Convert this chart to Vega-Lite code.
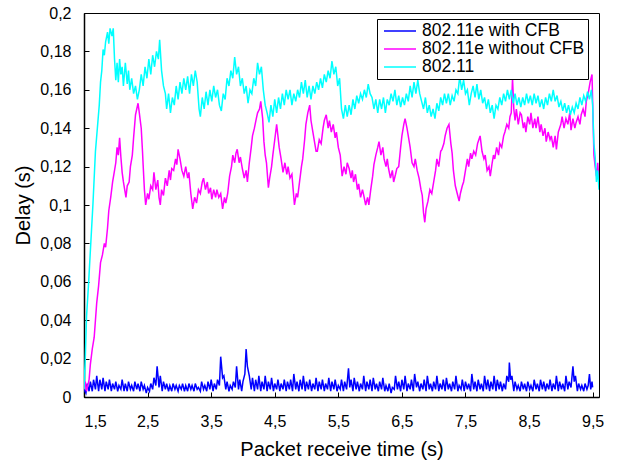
{
"$schema": "https://vega.github.io/schema/vega-lite/v6.json",
"width": 515,
"height": 384,
"autosize": {"type": "none"},
"padding": {"left": 84, "top": 13, "right": 21, "bottom": 68},
"background": "white",
"config": {
  "view": {"stroke": "#000000", "strokeWidth": 1},
  "font": "Liberation Sans",
  "axis": {"labelFont": "Liberation Sans", "titleFont": "Liberation Sans", "labelColor": "#000", "titleColor": "#000", "domainColor": "#000", "tickColor": "#000", "grid": false, "titleFontWeight": "normal", "labelFontSize": 16, "titleFontSize": 20, "domainWidth": 1.5, "tickWidth": 1, "tickSize": -5}
},
"data": {"values": [
{"s":"802.11e with CFB","t":1.50,"d":0.004},{"s":"802.11e with CFB","t":1.53,"d":0.002},{"s":"802.11e with CFB","t":1.55,"d":0.007},{"s":"802.11e with CFB","t":1.58,"d":0.003},{"s":"802.11e with CFB","t":1.60,"d":0.008},{"s":"802.11e with CFB","t":1.63,"d":0.003},{"s":"802.11e with CFB","t":1.65,"d":0.009},{"s":"802.11e with CFB","t":1.68,"d":0.004},{"s":"802.11e with CFB","t":1.70,"d":0.011},{"s":"802.11e with CFB","t":1.73,"d":0.003},{"s":"802.11e with CFB","t":1.75,"d":0.009},{"s":"802.11e with CFB","t":1.78,"d":0.004},{"s":"802.11e with CFB","t":1.80,"d":0.010},{"s":"802.11e with CFB","t":1.83,"d":0.003},{"s":"802.11e with CFB","t":1.85,"d":0.008},{"s":"802.11e with CFB","t":1.88,"d":0.004},{"s":"802.11e with CFB","t":1.90,"d":0.009},{"s":"802.11e with CFB","t":1.93,"d":0.003},{"s":"802.11e with CFB","t":1.95,"d":0.007},{"s":"802.11e with CFB","t":1.98,"d":0.004},{"s":"802.11e with CFB","t":2.00,"d":0.008},{"s":"802.11e with CFB","t":2.03,"d":0.003},{"s":"802.11e with CFB","t":2.05,"d":0.006},{"s":"802.11e with CFB","t":2.08,"d":0.004},{"s":"802.11e with CFB","t":2.10,"d":0.009},{"s":"802.11e with CFB","t":2.13,"d":0.003},{"s":"802.11e with CFB","t":2.15,"d":0.007},{"s":"802.11e with CFB","t":2.18,"d":0.003},{"s":"802.11e with CFB","t":2.20,"d":0.008},{"s":"802.11e with CFB","t":2.23,"d":0.004},{"s":"802.11e with CFB","t":2.25,"d":0.006},{"s":"802.11e with CFB","t":2.28,"d":0.003},{"s":"802.11e with CFB","t":2.30,"d":0.008},{"s":"802.11e with CFB","t":2.33,"d":0.004},{"s":"802.11e with CFB","t":2.35,"d":0.007},{"s":"802.11e with CFB","t":2.38,"d":0.003},{"s":"802.11e with CFB","t":2.40,"d":0.008},{"s":"802.11e with CFB","t":2.43,"d":0.004},{"s":"802.11e with CFB","t":2.45,"d":0.006},{"s":"802.11e with CFB","t":2.48,"d":0.002},{"s":"802.11e with CFB","t":2.50,"d":0.005},{"s":"802.11e with CFB","t":2.53,"d":0.003},{"s":"802.11e with CFB","t":2.55,"d":0.007},{"s":"802.11e with CFB","t":2.58,"d":0.004},{"s":"802.11e with CFB","t":2.60,"d":0.010},{"s":"802.11e with CFB","t":2.63,"d":0.006},{"s":"802.11e with CFB","t":2.65,"d":0.016},{"s":"802.11e with CFB","t":2.68,"d":0.005},{"s":"802.11e with CFB","t":2.70,"d":0.011},{"s":"802.11e with CFB","t":2.73,"d":0.003},{"s":"802.11e with CFB","t":2.75,"d":0.008},{"s":"802.11e with CFB","t":2.78,"d":0.004},{"s":"802.11e with CFB","t":2.80,"d":0.007},{"s":"802.11e with CFB","t":2.83,"d":0.003},{"s":"802.11e with CFB","t":2.85,"d":0.006},{"s":"802.11e with CFB","t":2.88,"d":0.003},{"s":"802.11e with CFB","t":2.90,"d":0.007},{"s":"802.11e with CFB","t":2.93,"d":0.004},{"s":"802.11e with CFB","t":2.95,"d":0.006},{"s":"802.11e with CFB","t":2.98,"d":0.003},{"s":"802.11e with CFB","t":3.00,"d":0.006},{"s":"802.11e with CFB","t":3.03,"d":0.004},{"s":"802.11e with CFB","t":3.05,"d":0.007},{"s":"802.11e with CFB","t":3.08,"d":0.003},{"s":"802.11e with CFB","t":3.10,"d":0.006},{"s":"802.11e with CFB","t":3.13,"d":0.003},{"s":"802.11e with CFB","t":3.15,"d":0.007},{"s":"802.11e with CFB","t":3.18,"d":0.004},{"s":"802.11e with CFB","t":3.20,"d":0.006},{"s":"802.11e with CFB","t":3.23,"d":0.003},{"s":"802.11e with CFB","t":3.25,"d":0.007},{"s":"802.11e with CFB","t":3.28,"d":0.004},{"s":"802.11e with CFB","t":3.30,"d":0.005},{"s":"802.11e with CFB","t":3.33,"d":0.003},{"s":"802.11e with CFB","t":3.35,"d":0.008},{"s":"802.11e with CFB","t":3.38,"d":0.004},{"s":"802.11e with CFB","t":3.40,"d":0.006},{"s":"802.11e with CFB","t":3.43,"d":0.003},{"s":"802.11e with CFB","t":3.45,"d":0.008},{"s":"802.11e with CFB","t":3.48,"d":0.004},{"s":"802.11e with CFB","t":3.50,"d":0.009},{"s":"802.11e with CFB","t":3.53,"d":0.003},{"s":"802.11e with CFB","t":3.55,"d":0.007},{"s":"802.11e with CFB","t":3.58,"d":0.004},{"s":"802.11e with CFB","t":3.60,"d":0.009},{"s":"802.11e with CFB","t":3.63,"d":0.006},{"s":"802.11e with CFB","t":3.65,"d":0.021},{"s":"802.11e with CFB","t":3.68,"d":0.010},{"s":"802.11e with CFB","t":3.70,"d":0.011},{"s":"802.11e with CFB","t":3.73,"d":0.004},{"s":"802.11e with CFB","t":3.75,"d":0.008},{"s":"802.11e with CFB","t":3.78,"d":0.003},{"s":"802.11e with CFB","t":3.80,"d":0.006},{"s":"802.11e with CFB","t":3.83,"d":0.004},{"s":"802.11e with CFB","t":3.85,"d":0.008},{"s":"802.11e with CFB","t":3.88,"d":0.005},{"s":"802.11e with CFB","t":3.90,"d":0.016},{"s":"802.11e with CFB","t":3.93,"d":0.004},{"s":"802.11e with CFB","t":3.95,"d":0.009},{"s":"802.11e with CFB","t":3.98,"d":0.003},{"s":"802.11e with CFB","t":4.00,"d":0.008},{"s":"802.11e with CFB","t":4.03,"d":0.012},{"s":"802.11e with CFB","t":4.05,"d":0.025},{"s":"802.11e with CFB","t":4.07,"d":0.016},{"s":"802.11e with CFB","t":4.10,"d":0.011},{"s":"802.11e with CFB","t":4.13,"d":0.004},{"s":"802.11e with CFB","t":4.15,"d":0.010},{"s":"802.11e with CFB","t":4.18,"d":0.003},{"s":"802.11e with CFB","t":4.20,"d":0.009},{"s":"802.11e with CFB","t":4.23,"d":0.004},{"s":"802.11e with CFB","t":4.25,"d":0.011},{"s":"802.11e with CFB","t":4.28,"d":0.003},{"s":"802.11e with CFB","t":4.30,"d":0.008},{"s":"802.11e with CFB","t":4.33,"d":0.004},{"s":"802.11e with CFB","t":4.35,"d":0.011},{"s":"802.11e with CFB","t":4.38,"d":0.003},{"s":"802.11e with CFB","t":4.40,"d":0.008},{"s":"802.11e with CFB","t":4.43,"d":0.004},{"s":"802.11e with CFB","t":4.45,"d":0.010},{"s":"802.11e with CFB","t":4.48,"d":0.003},{"s":"802.11e with CFB","t":4.50,"d":0.007},{"s":"802.11e with CFB","t":4.53,"d":0.004},{"s":"802.11e with CFB","t":4.55,"d":0.009},{"s":"802.11e with CFB","t":4.58,"d":0.003},{"s":"802.11e with CFB","t":4.60,"d":0.007},{"s":"802.11e with CFB","t":4.63,"d":0.004},{"s":"802.11e with CFB","t":4.65,"d":0.009},{"s":"802.11e with CFB","t":4.68,"d":0.003},{"s":"802.11e with CFB","t":4.70,"d":0.008},{"s":"802.11e with CFB","t":4.73,"d":0.004},{"s":"802.11e with CFB","t":4.75,"d":0.009},{"s":"802.11e with CFB","t":4.78,"d":0.003},{"s":"802.11e with CFB","t":4.80,"d":0.012},{"s":"802.11e with CFB","t":4.83,"d":0.004},{"s":"802.11e with CFB","t":4.85,"d":0.008},{"s":"802.11e with CFB","t":4.88,"d":0.003},{"s":"802.11e with CFB","t":4.90,"d":0.009},{"s":"802.11e with CFB","t":4.93,"d":0.004},{"s":"802.11e with CFB","t":4.95,"d":0.011},{"s":"802.11e with CFB","t":4.98,"d":0.003},{"s":"802.11e with CFB","t":5.00,"d":0.008},{"s":"802.11e with CFB","t":5.03,"d":0.004},{"s":"802.11e with CFB","t":5.05,"d":0.009},{"s":"802.11e with CFB","t":5.08,"d":0.003},{"s":"802.11e with CFB","t":5.10,"d":0.007},{"s":"802.11e with CFB","t":5.13,"d":0.004},{"s":"802.11e with CFB","t":5.15,"d":0.010},{"s":"802.11e with CFB","t":5.18,"d":0.003},{"s":"802.11e with CFB","t":5.20,"d":0.008},{"s":"802.11e with CFB","t":5.23,"d":0.004},{"s":"802.11e with CFB","t":5.25,"d":0.009},{"s":"802.11e with CFB","t":5.28,"d":0.003},{"s":"802.11e with CFB","t":5.30,"d":0.007},{"s":"802.11e with CFB","t":5.33,"d":0.004},{"s":"802.11e with CFB","t":5.35,"d":0.010},{"s":"802.11e with CFB","t":5.38,"d":0.003},{"s":"802.11e with CFB","t":5.40,"d":0.008},{"s":"802.11e with CFB","t":5.43,"d":0.004},{"s":"802.11e with CFB","t":5.45,"d":0.009},{"s":"802.11e with CFB","t":5.48,"d":0.003},{"s":"802.11e with CFB","t":5.50,"d":0.006},{"s":"802.11e with CFB","t":5.53,"d":0.004},{"s":"802.11e with CFB","t":5.55,"d":0.009},{"s":"802.11e with CFB","t":5.58,"d":0.003},{"s":"802.11e with CFB","t":5.60,"d":0.008},{"s":"802.11e with CFB","t":5.63,"d":0.004},{"s":"802.11e with CFB","t":5.66,"d":0.015},{"s":"802.11e with CFB","t":5.68,"d":0.005},{"s":"802.11e with CFB","t":5.70,"d":0.009},{"s":"802.11e with CFB","t":5.73,"d":0.003},{"s":"802.11e with CFB","t":5.75,"d":0.010},{"s":"802.11e with CFB","t":5.78,"d":0.004},{"s":"802.11e with CFB","t":5.80,"d":0.008},{"s":"802.11e with CFB","t":5.83,"d":0.003},{"s":"802.11e with CFB","t":5.85,"d":0.007},{"s":"802.11e with CFB","t":5.88,"d":0.004},{"s":"802.11e with CFB","t":5.90,"d":0.011},{"s":"802.11e with CFB","t":5.93,"d":0.003},{"s":"802.11e with CFB","t":5.95,"d":0.008},{"s":"802.11e with CFB","t":5.98,"d":0.004},{"s":"802.11e with CFB","t":6.00,"d":0.009},{"s":"802.11e with CFB","t":6.03,"d":0.003},{"s":"802.11e with CFB","t":6.05,"d":0.010},{"s":"802.11e with CFB","t":6.08,"d":0.004},{"s":"802.11e with CFB","t":6.10,"d":0.007},{"s":"802.11e with CFB","t":6.13,"d":0.003},{"s":"802.11e with CFB","t":6.15,"d":0.008},{"s":"802.11e with CFB","t":6.18,"d":0.004},{"s":"802.11e with CFB","t":6.20,"d":0.010},{"s":"802.11e with CFB","t":6.23,"d":0.003},{"s":"802.11e with CFB","t":6.25,"d":0.006},{"s":"802.11e with CFB","t":6.28,"d":0.003},{"s":"802.11e with CFB","t":6.30,"d":0.007},{"s":"802.11e with CFB","t":6.33,"d":0.002},{"s":"802.11e with CFB","t":6.35,"d":0.005},{"s":"802.11e with CFB","t":6.38,"d":0.004},{"s":"802.11e with CFB","t":6.40,"d":0.011},{"s":"802.11e with CFB","t":6.43,"d":0.004},{"s":"802.11e with CFB","t":6.45,"d":0.008},{"s":"802.11e with CFB","t":6.48,"d":0.003},{"s":"802.11e with CFB","t":6.50,"d":0.009},{"s":"802.11e with CFB","t":6.53,"d":0.004},{"s":"802.11e with CFB","t":6.55,"d":0.011},{"s":"802.11e with CFB","t":6.58,"d":0.003},{"s":"802.11e with CFB","t":6.60,"d":0.007},{"s":"802.11e with CFB","t":6.63,"d":0.004},{"s":"802.11e with CFB","t":6.65,"d":0.009},{"s":"802.11e with CFB","t":6.68,"d":0.003},{"s":"802.11e with CFB","t":6.70,"d":0.012},{"s":"802.11e with CFB","t":6.73,"d":0.005},{"s":"802.11e with CFB","t":6.75,"d":0.008},{"s":"802.11e with CFB","t":6.78,"d":0.003},{"s":"802.11e with CFB","t":6.80,"d":0.007},{"s":"802.11e with CFB","t":6.83,"d":0.004},{"s":"802.11e with CFB","t":6.85,"d":0.009},{"s":"802.11e with CFB","t":6.88,"d":0.003},{"s":"802.11e with CFB","t":6.90,"d":0.011},{"s":"802.11e with CFB","t":6.93,"d":0.004},{"s":"802.11e with CFB","t":6.95,"d":0.007},{"s":"802.11e with CFB","t":6.98,"d":0.003},{"s":"802.11e with CFB","t":7.00,"d":0.008},{"s":"802.11e with CFB","t":7.03,"d":0.004},{"s":"802.11e with CFB","t":7.05,"d":0.011},{"s":"802.11e with CFB","t":7.08,"d":0.003},{"s":"802.11e with CFB","t":7.10,"d":0.007},{"s":"802.11e with CFB","t":7.13,"d":0.004},{"s":"802.11e with CFB","t":7.15,"d":0.009},{"s":"802.11e with CFB","t":7.18,"d":0.003},{"s":"802.11e with CFB","t":7.20,"d":0.010},{"s":"802.11e with CFB","t":7.23,"d":0.004},{"s":"802.11e with CFB","t":7.25,"d":0.007},{"s":"802.11e with CFB","t":7.28,"d":0.003},{"s":"802.11e with CFB","t":7.30,"d":0.008},{"s":"802.11e with CFB","t":7.33,"d":0.004},{"s":"802.11e with CFB","t":7.35,"d":0.011},{"s":"802.11e with CFB","t":7.38,"d":0.003},{"s":"802.11e with CFB","t":7.40,"d":0.006},{"s":"802.11e with CFB","t":7.43,"d":0.004},{"s":"802.11e with CFB","t":7.45,"d":0.009},{"s":"802.11e with CFB","t":7.48,"d":0.003},{"s":"802.11e with CFB","t":7.50,"d":0.008},{"s":"802.11e with CFB","t":7.53,"d":0.004},{"s":"802.11e with CFB","t":7.55,"d":0.007},{"s":"802.11e with CFB","t":7.58,"d":0.003},{"s":"802.11e with CFB","t":7.60,"d":0.012},{"s":"802.11e with CFB","t":7.63,"d":0.004},{"s":"802.11e with CFB","t":7.65,"d":0.008},{"s":"802.11e with CFB","t":7.68,"d":0.003},{"s":"802.11e with CFB","t":7.70,"d":0.009},{"s":"802.11e with CFB","t":7.73,"d":0.004},{"s":"802.11e with CFB","t":7.75,"d":0.007},{"s":"802.11e with CFB","t":7.78,"d":0.003},{"s":"802.11e with CFB","t":7.80,"d":0.011},{"s":"802.11e with CFB","t":7.83,"d":0.004},{"s":"802.11e with CFB","t":7.85,"d":0.009},{"s":"802.11e with CFB","t":7.88,"d":0.003},{"s":"802.11e with CFB","t":7.90,"d":0.008},{"s":"802.11e with CFB","t":7.93,"d":0.004},{"s":"802.11e with CFB","t":7.95,"d":0.011},{"s":"802.11e with CFB","t":7.98,"d":0.003},{"s":"802.11e with CFB","t":8.00,"d":0.009},{"s":"802.11e with CFB","t":8.03,"d":0.004},{"s":"802.11e with CFB","t":8.05,"d":0.008},{"s":"802.11e with CFB","t":8.08,"d":0.003},{"s":"802.11e with CFB","t":8.10,"d":0.007},{"s":"802.11e with CFB","t":8.13,"d":0.004},{"s":"802.11e with CFB","t":8.15,"d":0.011},{"s":"802.11e with CFB","t":8.18,"d":0.008},{"s":"802.11e with CFB","t":8.19,"d":0.018},{"s":"802.11e with CFB","t":8.21,"d":0.009},{"s":"802.11e with CFB","t":8.23,"d":0.011},{"s":"802.11e with CFB","t":8.26,"d":0.003},{"s":"802.11e with CFB","t":8.28,"d":0.008},{"s":"802.11e with CFB","t":8.31,"d":0.004},{"s":"802.11e with CFB","t":8.33,"d":0.006},{"s":"802.11e with CFB","t":8.36,"d":0.003},{"s":"802.11e with CFB","t":8.38,"d":0.008},{"s":"802.11e with CFB","t":8.41,"d":0.004},{"s":"802.11e with CFB","t":8.43,"d":0.007},{"s":"802.11e with CFB","t":8.46,"d":0.003},{"s":"802.11e with CFB","t":8.48,"d":0.008},{"s":"802.11e with CFB","t":8.51,"d":0.004},{"s":"802.11e with CFB","t":8.53,"d":0.006},{"s":"802.11e with CFB","t":8.56,"d":0.003},{"s":"802.11e with CFB","t":8.58,"d":0.009},{"s":"802.11e with CFB","t":8.61,"d":0.004},{"s":"802.11e with CFB","t":8.63,"d":0.007},{"s":"802.11e with CFB","t":8.66,"d":0.003},{"s":"802.11e with CFB","t":8.68,"d":0.009},{"s":"802.11e with CFB","t":8.71,"d":0.004},{"s":"802.11e with CFB","t":8.73,"d":0.008},{"s":"802.11e with CFB","t":8.76,"d":0.003},{"s":"802.11e with CFB","t":8.78,"d":0.007},{"s":"802.11e with CFB","t":8.81,"d":0.004},{"s":"802.11e with CFB","t":8.83,"d":0.009},{"s":"802.11e with CFB","t":8.86,"d":0.003},{"s":"802.11e with CFB","t":8.88,"d":0.007},{"s":"802.11e with CFB","t":8.91,"d":0.004},{"s":"802.11e with CFB","t":8.93,"d":0.011},{"s":"802.11e with CFB","t":8.96,"d":0.003},{"s":"802.11e with CFB","t":8.98,"d":0.008},{"s":"802.11e with CFB","t":9.01,"d":0.004},{"s":"802.11e with CFB","t":9.03,"d":0.007},{"s":"802.11e with CFB","t":9.06,"d":0.003},{"s":"802.11e with CFB","t":9.08,"d":0.011},{"s":"802.11e with CFB","t":9.11,"d":0.004},{"s":"802.11e with CFB","t":9.13,"d":0.008},{"s":"802.11e with CFB","t":9.16,"d":0.005},{"s":"802.11e with CFB","t":9.19,"d":0.016},{"s":"802.11e with CFB","t":9.21,"d":0.008},{"s":"802.11e with CFB","t":9.23,"d":0.011},{"s":"802.11e with CFB","t":9.26,"d":0.003},{"s":"802.11e with CFB","t":9.28,"d":0.007},{"s":"802.11e with CFB","t":9.31,"d":0.004},{"s":"802.11e with CFB","t":9.33,"d":0.006},{"s":"802.11e with CFB","t":9.36,"d":0.003},{"s":"802.11e with CFB","t":9.38,"d":0.007},{"s":"802.11e with CFB","t":9.41,"d":0.004},{"s":"802.11e with CFB","t":9.43,"d":0.006},{"s":"802.11e with CFB","t":9.45,"d":0.012},{"s":"802.11e with CFB","t":9.47,"d":0.004},{"s":"802.11e with CFB","t":9.49,"d":0.008},{"s":"802.11e with CFB","t":9.50,"d":0.005},
{"s":"802.11e without CFB","t":1.50,"d":0.004},{"s":"802.11e without CFB","t":1.52,"d":0.008},{"s":"802.11e without CFB","t":1.54,"d":0.003},{"s":"802.11e without CFB","t":1.56,"d":0.006},{"s":"802.11e without CFB","t":1.58,"d":0.009},{"s":"802.11e without CFB","t":1.60,"d":0.017},{"s":"802.11e without CFB","t":1.63,"d":0.025},{"s":"802.11e without CFB","t":1.66,"d":0.031},{"s":"802.11e without CFB","t":1.68,"d":0.040},{"s":"802.11e without CFB","t":1.70,"d":0.049},{"s":"802.11e without CFB","t":1.73,"d":0.058},{"s":"802.11e without CFB","t":1.76,"d":0.070},{"s":"802.11e without CFB","t":1.79,"d":0.074},{"s":"802.11e without CFB","t":1.82,"d":0.080},{"s":"802.11e without CFB","t":1.84,"d":0.078},{"s":"802.11e without CFB","t":1.87,"d":0.088},{"s":"802.11e without CFB","t":1.89,"d":0.097},{"s":"802.11e without CFB","t":1.92,"d":0.104},{"s":"802.11e without CFB","t":1.95,"d":0.112},{"s":"802.11e without CFB","t":1.97,"d":0.116},{"s":"802.11e without CFB","t":2.00,"d":0.122},{"s":"802.11e without CFB","t":2.02,"d":0.130},{"s":"802.11e without CFB","t":2.04,"d":0.126},{"s":"802.11e without CFB","t":2.06,"d":0.135},{"s":"802.11e without CFB","t":2.08,"d":0.125},{"s":"802.11e without CFB","t":2.10,"d":0.117},{"s":"802.11e without CFB","t":2.12,"d":0.112},{"s":"802.11e without CFB","t":2.14,"d":0.108},{"s":"802.11e without CFB","t":2.16,"d":0.104},{"s":"802.11e without CFB","t":2.18,"d":0.110},{"s":"802.11e without CFB","t":2.21,"d":0.112},{"s":"802.11e without CFB","t":2.23,"d":0.120},{"s":"802.11e without CFB","t":2.26,"d":0.126},{"s":"802.11e without CFB","t":2.28,"d":0.135},{"s":"802.11e without CFB","t":2.31,"d":0.147},{"s":"802.11e without CFB","t":2.33,"d":0.150},{"s":"802.11e without CFB","t":2.35,"d":0.153},{"s":"802.11e without CFB","t":2.37,"d":0.148},{"s":"802.11e without CFB","t":2.40,"d":0.140},{"s":"802.11e without CFB","t":2.42,"d":0.128},{"s":"802.11e without CFB","t":2.43,"d":0.121},{"s":"802.11e without CFB","t":2.45,"d":0.108},{"s":"802.11e without CFB","t":2.47,"d":0.100},{"s":"802.11e without CFB","t":2.50,"d":0.106},{"s":"802.11e without CFB","t":2.52,"d":0.103},{"s":"802.11e without CFB","t":2.55,"d":0.110},{"s":"802.11e without CFB","t":2.58,"d":0.108},{"s":"802.11e without CFB","t":2.60,"d":0.117},{"s":"802.11e without CFB","t":2.63,"d":0.108},{"s":"802.11e without CFB","t":2.66,"d":0.113},{"s":"802.11e without CFB","t":2.68,"d":0.104},{"s":"802.11e without CFB","t":2.70,"d":0.100},{"s":"802.11e without CFB","t":2.72,"d":0.108},{"s":"802.11e without CFB","t":2.75,"d":0.105},{"s":"802.11e without CFB","t":2.78,"d":0.114},{"s":"802.11e without CFB","t":2.81,"d":0.110},{"s":"802.11e without CFB","t":2.84,"d":0.118},{"s":"802.11e without CFB","t":2.86,"d":0.113},{"s":"802.11e without CFB","t":2.88,"d":0.119},{"s":"802.11e without CFB","t":2.91,"d":0.118},{"s":"802.11e without CFB","t":2.94,"d":0.124},{"s":"802.11e without CFB","t":2.96,"d":0.121},{"s":"802.11e without CFB","t":2.98,"d":0.129},{"s":"802.11e without CFB","t":3.01,"d":0.124},{"s":"802.11e without CFB","t":3.04,"d":0.118},{"s":"802.11e without CFB","t":3.07,"d":0.115},{"s":"802.11e without CFB","t":3.10,"d":0.120},{"s":"802.11e without CFB","t":3.13,"d":0.114},{"s":"802.11e without CFB","t":3.15,"d":0.117},{"s":"802.11e without CFB","t":3.18,"d":0.106},{"s":"802.11e without CFB","t":3.21,"d":0.098},{"s":"802.11e without CFB","t":3.24,"d":0.104},{"s":"802.11e without CFB","t":3.27,"d":0.101},{"s":"802.11e without CFB","t":3.30,"d":0.108},{"s":"802.11e without CFB","t":3.33,"d":0.106},{"s":"802.11e without CFB","t":3.36,"d":0.112},{"s":"802.11e without CFB","t":3.38,"d":0.114},{"s":"802.11e without CFB","t":3.41,"d":0.108},{"s":"802.11e without CFB","t":3.44,"d":0.112},{"s":"802.11e without CFB","t":3.46,"d":0.106},{"s":"802.11e without CFB","t":3.49,"d":0.109},{"s":"802.11e without CFB","t":3.51,"d":0.103},{"s":"802.11e without CFB","t":3.54,"d":0.108},{"s":"802.11e without CFB","t":3.57,"d":0.104},{"s":"802.11e without CFB","t":3.59,"d":0.108},{"s":"802.11e without CFB","t":3.62,"d":0.104},{"s":"802.11e without CFB","t":3.65,"d":0.106},{"s":"802.11e without CFB","t":3.68,"d":0.098},{"s":"802.11e without CFB","t":3.71,"d":0.104},{"s":"802.11e without CFB","t":3.73,"d":0.101},{"s":"802.11e without CFB","t":3.76,"d":0.106},{"s":"802.11e without CFB","t":3.79,"d":0.115},{"s":"802.11e without CFB","t":3.82,"d":0.120},{"s":"802.11e without CFB","t":3.84,"d":0.126},{"s":"802.11e without CFB","t":3.87,"d":0.122},{"s":"802.11e without CFB","t":3.89,"d":0.127},{"s":"802.11e without CFB","t":3.91,"d":0.129},{"s":"802.11e without CFB","t":3.94,"d":0.122},{"s":"802.11e without CFB","t":3.96,"d":0.125},{"s":"802.11e without CFB","t":3.99,"d":0.119},{"s":"802.11e without CFB","t":4.02,"d":0.114},{"s":"802.11e without CFB","t":4.05,"d":0.118},{"s":"802.11e without CFB","t":4.07,"d":0.112},{"s":"802.11e without CFB","t":4.10,"d":0.122},{"s":"802.11e without CFB","t":4.13,"d":0.130},{"s":"802.11e without CFB","t":4.15,"d":0.136},{"s":"802.11e without CFB","t":4.18,"d":0.140},{"s":"802.11e without CFB","t":4.21,"d":0.145},{"s":"802.11e without CFB","t":4.23,"d":0.148},{"s":"802.11e without CFB","t":4.26,"d":0.150},{"s":"802.11e without CFB","t":4.28,"d":0.154},{"s":"802.11e without CFB","t":4.31,"d":0.145},{"s":"802.11e without CFB","t":4.33,"d":0.133},{"s":"802.11e without CFB","t":4.35,"d":0.126},{"s":"802.11e without CFB","t":4.37,"d":0.122},{"s":"802.11e without CFB","t":4.40,"d":0.109},{"s":"802.11e without CFB","t":4.42,"d":0.114},{"s":"802.11e without CFB","t":4.45,"d":0.120},{"s":"802.11e without CFB","t":4.47,"d":0.126},{"s":"802.11e without CFB","t":4.50,"d":0.134},{"s":"802.11e without CFB","t":4.53,"d":0.142},{"s":"802.11e without CFB","t":4.55,"d":0.136},{"s":"802.11e without CFB","t":4.57,"d":0.130},{"s":"802.11e without CFB","t":4.60,"d":0.124},{"s":"802.11e without CFB","t":4.63,"d":0.117},{"s":"802.11e without CFB","t":4.66,"d":0.122},{"s":"802.11e without CFB","t":4.69,"d":0.116},{"s":"802.11e without CFB","t":4.71,"d":0.120},{"s":"802.11e without CFB","t":4.74,"d":0.114},{"s":"802.11e without CFB","t":4.77,"d":0.116},{"s":"802.11e without CFB","t":4.78,"d":0.112},{"s":"802.11e without CFB","t":4.81,"d":0.100},{"s":"802.11e without CFB","t":4.84,"d":0.106},{"s":"802.11e without CFB","t":4.86,"d":0.104},{"s":"802.11e without CFB","t":4.89,"d":0.112},{"s":"802.11e without CFB","t":4.92,"d":0.120},{"s":"802.11e without CFB","t":4.94,"d":0.124},{"s":"802.11e without CFB","t":4.97,"d":0.134},{"s":"802.11e without CFB","t":4.99,"d":0.142},{"s":"802.11e without CFB","t":5.02,"d":0.148},{"s":"802.11e without CFB","t":5.05,"d":0.152},{"s":"802.11e without CFB","t":5.07,"d":0.144},{"s":"802.11e without CFB","t":5.10,"d":0.138},{"s":"802.11e without CFB","t":5.13,"d":0.132},{"s":"802.11e without CFB","t":5.15,"d":0.128},{"s":"802.11e without CFB","t":5.17,"d":0.128},{"s":"802.11e without CFB","t":5.20,"d":0.134},{"s":"802.11e without CFB","t":5.23,"d":0.132},{"s":"802.11e without CFB","t":5.26,"d":0.140},{"s":"802.11e without CFB","t":5.28,"d":0.144},{"s":"802.11e without CFB","t":5.31,"d":0.147},{"s":"802.11e without CFB","t":5.34,"d":0.140},{"s":"802.11e without CFB","t":5.36,"d":0.144},{"s":"802.11e without CFB","t":5.39,"d":0.138},{"s":"802.11e without CFB","t":5.42,"d":0.142},{"s":"802.11e without CFB","t":5.45,"d":0.135},{"s":"802.11e without CFB","t":5.47,"d":0.138},{"s":"802.11e without CFB","t":5.50,"d":0.130},{"s":"802.11e without CFB","t":5.53,"d":0.126},{"s":"802.11e without CFB","t":5.56,"d":0.115},{"s":"802.11e without CFB","t":5.59,"d":0.120},{"s":"802.11e without CFB","t":5.62,"d":0.116},{"s":"802.11e without CFB","t":5.64,"d":0.122},{"s":"802.11e without CFB","t":5.67,"d":0.119},{"s":"802.11e without CFB","t":5.70,"d":0.114},{"s":"802.11e without CFB","t":5.72,"d":0.118},{"s":"802.11e without CFB","t":5.74,"d":0.112},{"s":"802.11e without CFB","t":5.77,"d":0.116},{"s":"802.11e without CFB","t":5.80,"d":0.108},{"s":"802.11e without CFB","t":5.82,"d":0.111},{"s":"802.11e without CFB","t":5.85,"d":0.104},{"s":"802.11e without CFB","t":5.88,"d":0.108},{"s":"802.11e without CFB","t":5.90,"d":0.105},{"s":"802.11e without CFB","t":5.93,"d":0.100},{"s":"802.11e without CFB","t":5.96,"d":0.104},{"s":"802.11e without CFB","t":5.98,"d":0.100},{"s":"802.11e without CFB","t":6.01,"d":0.108},{"s":"802.11e without CFB","t":6.04,"d":0.115},{"s":"802.11e without CFB","t":6.06,"d":0.121},{"s":"802.11e without CFB","t":6.09,"d":0.126},{"s":"802.11e without CFB","t":6.12,"d":0.130},{"s":"802.11e without CFB","t":6.14,"d":0.133},{"s":"802.11e without CFB","t":6.17,"d":0.126},{"s":"802.11e without CFB","t":6.20,"d":0.130},{"s":"802.11e without CFB","t":6.22,"d":0.124},{"s":"802.11e without CFB","t":6.25,"d":0.120},{"s":"802.11e without CFB","t":6.27,"d":0.124},{"s":"802.11e without CFB","t":6.29,"d":0.119},{"s":"802.11e without CFB","t":6.32,"d":0.114},{"s":"802.11e without CFB","t":6.35,"d":0.118},{"s":"802.11e without CFB","t":6.37,"d":0.112},{"s":"802.11e without CFB","t":6.40,"d":0.116},{"s":"802.11e without CFB","t":6.42,"d":0.119},{"s":"802.11e without CFB","t":6.45,"d":0.120},{"s":"802.11e without CFB","t":6.48,"d":0.130},{"s":"802.11e without CFB","t":6.50,"d":0.136},{"s":"802.11e without CFB","t":6.53,"d":0.142},{"s":"802.11e without CFB","t":6.55,"d":0.145},{"s":"802.11e without CFB","t":6.58,"d":0.140},{"s":"802.11e without CFB","t":6.61,"d":0.134},{"s":"802.11e without CFB","t":6.63,"d":0.130},{"s":"802.11e without CFB","t":6.66,"d":0.122},{"s":"802.11e without CFB","t":6.69,"d":0.120},{"s":"802.11e without CFB","t":6.71,"d":0.124},{"s":"802.11e without CFB","t":6.74,"d":0.118},{"s":"802.11e without CFB","t":6.77,"d":0.114},{"s":"802.11e without CFB","t":6.80,"d":0.108},{"s":"802.11e without CFB","t":6.82,"d":0.105},{"s":"802.11e without CFB","t":6.84,"d":0.096},{"s":"802.11e without CFB","t":6.86,"d":0.091},{"s":"802.11e without CFB","t":6.88,"d":0.098},{"s":"802.11e without CFB","t":6.91,"d":0.102},{"s":"802.11e without CFB","t":6.94,"d":0.108},{"s":"802.11e without CFB","t":6.97,"d":0.106},{"s":"802.11e without CFB","t":7.00,"d":0.112},{"s":"802.11e without CFB","t":7.03,"d":0.118},{"s":"802.11e without CFB","t":7.05,"d":0.124},{"s":"802.11e without CFB","t":7.08,"d":0.120},{"s":"802.11e without CFB","t":7.11,"d":0.128},{"s":"802.11e without CFB","t":7.13,"d":0.129},{"s":"802.11e without CFB","t":7.16,"d":0.132},{"s":"802.11e without CFB","t":7.18,"d":0.136},{"s":"802.11e without CFB","t":7.21,"d":0.140},{"s":"802.11e without CFB","t":7.24,"d":0.142},{"s":"802.11e without CFB","t":7.27,"d":0.132},{"s":"802.11e without CFB","t":7.29,"d":0.127},{"s":"802.11e without CFB","t":7.31,"d":0.118},{"s":"802.11e without CFB","t":7.34,"d":0.110},{"s":"802.11e without CFB","t":7.37,"d":0.106},{"s":"802.11e without CFB","t":7.40,"d":0.102},{"s":"802.11e without CFB","t":7.42,"d":0.106},{"s":"802.11e without CFB","t":7.45,"d":0.110},{"s":"802.11e without CFB","t":7.47,"d":0.112},{"s":"802.11e without CFB","t":7.50,"d":0.118},{"s":"802.11e without CFB","t":7.53,"d":0.124},{"s":"802.11e without CFB","t":7.55,"d":0.120},{"s":"802.11e without CFB","t":7.58,"d":0.127},{"s":"802.11e without CFB","t":7.60,"d":0.124},{"s":"802.11e without CFB","t":7.63,"d":0.128},{"s":"802.11e without CFB","t":7.66,"d":0.126},{"s":"802.11e without CFB","t":7.69,"d":0.132},{"s":"802.11e without CFB","t":7.71,"d":0.134},{"s":"802.11e without CFB","t":7.73,"d":0.136},{"s":"802.11e without CFB","t":7.76,"d":0.128},{"s":"802.11e without CFB","t":7.79,"d":0.124},{"s":"802.11e without CFB","t":7.81,"d":0.126},{"s":"802.11e without CFB","t":7.84,"d":0.118},{"s":"802.11e without CFB","t":7.87,"d":0.120},{"s":"802.11e without CFB","t":7.89,"d":0.115},{"s":"802.11e without CFB","t":7.92,"d":0.122},{"s":"802.11e without CFB","t":7.94,"d":0.126},{"s":"802.11e without CFB","t":7.96,"d":0.124},{"s":"802.11e without CFB","t":7.99,"d":0.130},{"s":"802.11e without CFB","t":8.02,"d":0.126},{"s":"802.11e without CFB","t":8.04,"d":0.132},{"s":"802.11e without CFB","t":8.07,"d":0.130},{"s":"802.11e without CFB","t":8.10,"d":0.136},{"s":"802.11e without CFB","t":8.12,"d":0.138},{"s":"802.11e without CFB","t":8.15,"d":0.142},{"s":"802.11e without CFB","t":8.18,"d":0.140},{"s":"802.11e without CFB","t":8.20,"d":0.146},{"s":"802.11e without CFB","t":8.22,"d":0.148},{"s":"802.11e without CFB","t":8.24,"d":0.166},{"s":"802.11e without CFB","t":8.26,"d":0.150},{"s":"802.11e without CFB","t":8.28,"d":0.144},{"s":"802.11e without CFB","t":8.30,"d":0.150},{"s":"802.11e without CFB","t":8.33,"d":0.142},{"s":"802.11e without CFB","t":8.36,"d":0.148},{"s":"802.11e without CFB","t":8.38,"d":0.147},{"s":"802.11e without CFB","t":8.41,"d":0.140},{"s":"802.11e without CFB","t":8.43,"d":0.143},{"s":"802.11e without CFB","t":8.45,"d":0.138},{"s":"802.11e without CFB","t":8.48,"d":0.146},{"s":"802.11e without CFB","t":8.51,"d":0.142},{"s":"802.11e without CFB","t":8.53,"d":0.148},{"s":"802.11e without CFB","t":8.56,"d":0.140},{"s":"802.11e without CFB","t":8.59,"d":0.145},{"s":"802.11e without CFB","t":8.61,"d":0.140},{"s":"802.11e without CFB","t":8.64,"d":0.146},{"s":"802.11e without CFB","t":8.67,"d":0.138},{"s":"802.11e without CFB","t":8.69,"d":0.142},{"s":"802.11e without CFB","t":8.72,"d":0.136},{"s":"802.11e without CFB","t":8.75,"d":0.140},{"s":"802.11e without CFB","t":8.77,"d":0.133},{"s":"802.11e without CFB","t":8.80,"d":0.138},{"s":"802.11e without CFB","t":8.83,"d":0.134},{"s":"802.11e without CFB","t":8.85,"d":0.136},{"s":"802.11e without CFB","t":8.88,"d":0.130},{"s":"802.11e without CFB","t":8.91,"d":0.136},{"s":"802.11e without CFB","t":8.93,"d":0.129},{"s":"802.11e without CFB","t":8.96,"d":0.138},{"s":"802.11e without CFB","t":9.00,"d":0.142},{"s":"802.11e without CFB","t":9.02,"d":0.146},{"s":"802.11e without CFB","t":9.05,"d":0.140},{"s":"802.11e without CFB","t":9.08,"d":0.145},{"s":"802.11e without CFB","t":9.11,"d":0.142},{"s":"802.11e without CFB","t":9.14,"d":0.148},{"s":"802.11e without CFB","t":9.16,"d":0.139},{"s":"802.11e without CFB","t":9.19,"d":0.145},{"s":"802.11e without CFB","t":9.22,"d":0.140},{"s":"802.11e without CFB","t":9.24,"d":0.143},{"s":"802.11e without CFB","t":9.27,"d":0.146},{"s":"802.11e without CFB","t":9.30,"d":0.142},{"s":"802.11e without CFB","t":9.32,"d":0.147},{"s":"802.11e without CFB","t":9.35,"d":0.150},{"s":"802.11e without CFB","t":9.38,"d":0.146},{"s":"802.11e without CFB","t":9.40,"d":0.154},{"s":"802.11e without CFB","t":9.43,"d":0.158},{"s":"802.11e without CFB","t":9.46,"d":0.164},{"s":"802.11e without CFB","t":9.49,"d":0.168},{"s":"802.11e without CFB","t":9.51,"d":0.140},{"s":"802.11e without CFB","t":9.52,"d":0.126},{"s":"802.11e without CFB","t":9.54,"d":0.120},{"s":"802.11e without CFB","t":9.56,"d":0.115},{"s":"802.11e without CFB","t":9.58,"d":0.122},{"s":"802.11e without CFB","t":9.60,"d":0.112},
{"s":"802.11","t":1.50,"d":0.004},{"s":"802.11","t":1.52,"d":0.020},{"s":"802.11","t":1.54,"d":0.042},{"s":"802.11","t":1.57,"d":0.058},{"s":"802.11","t":1.60,"d":0.076},{"s":"802.11","t":1.64,"d":0.100},{"s":"802.11","t":1.68,"d":0.128},{"s":"802.11","t":1.71,"d":0.140},{"s":"802.11","t":1.74,"d":0.152},{"s":"802.11","t":1.76,"d":0.164},{"s":"802.11","t":1.78,"d":0.170},{"s":"802.11","t":1.80,"d":0.181},{"s":"802.11","t":1.82,"d":0.178},{"s":"802.11","t":1.84,"d":0.185},{"s":"802.11","t":1.87,"d":0.190},{"s":"802.11","t":1.89,"d":0.184},{"s":"802.11","t":1.91,"d":0.192},{"s":"802.11","t":1.94,"d":0.188},{"s":"802.11","t":1.96,"d":0.192},{"s":"802.11","t":1.98,"d":0.176},{"s":"802.11","t":2.00,"d":0.165},{"s":"802.11","t":2.02,"d":0.174},{"s":"802.11","t":2.04,"d":0.164},{"s":"802.11","t":2.06,"d":0.176},{"s":"802.11","t":2.08,"d":0.168},{"s":"802.11","t":2.10,"d":0.172},{"s":"802.11","t":2.12,"d":0.162},{"s":"802.11","t":2.15,"d":0.174},{"s":"802.11","t":2.18,"d":0.163},{"s":"802.11","t":2.20,"d":0.170},{"s":"802.11","t":2.22,"d":0.160},{"s":"802.11","t":2.25,"d":0.166},{"s":"802.11","t":2.28,"d":0.158},{"s":"802.11","t":2.31,"d":0.162},{"s":"802.11","t":2.34,"d":0.155},{"s":"802.11","t":2.37,"d":0.160},{"s":"802.11","t":2.40,"d":0.168},{"s":"802.11","t":2.43,"d":0.162},{"s":"802.11","t":2.46,"d":0.172},{"s":"802.11","t":2.49,"d":0.166},{"s":"802.11","t":2.52,"d":0.176},{"s":"802.11","t":2.55,"d":0.168},{"s":"802.11","t":2.58,"d":0.178},{"s":"802.11","t":2.61,"d":0.172},{"s":"802.11","t":2.64,"d":0.180},{"s":"802.11","t":2.67,"d":0.176},{"s":"802.11","t":2.69,"d":0.186},{"s":"802.11","t":2.72,"d":0.170},{"s":"802.11","t":2.75,"d":0.162},{"s":"802.11","t":2.78,"d":0.158},{"s":"802.11","t":2.80,"d":0.150},{"s":"802.11","t":2.83,"d":0.158},{"s":"802.11","t":2.86,"d":0.148},{"s":"802.11","t":2.89,"d":0.156},{"s":"802.11","t":2.92,"d":0.152},{"s":"802.11","t":2.95,"d":0.162},{"s":"802.11","t":2.98,"d":0.155},{"s":"802.11","t":3.01,"d":0.164},{"s":"802.11","t":3.04,"d":0.158},{"s":"802.11","t":3.07,"d":0.166},{"s":"802.11","t":3.10,"d":0.160},{"s":"802.11","t":3.13,"d":0.167},{"s":"802.11","t":3.16,"d":0.158},{"s":"802.11","t":3.19,"d":0.168},{"s":"802.11","t":3.22,"d":0.162},{"s":"802.11","t":3.25,"d":0.170},{"s":"802.11","t":3.28,"d":0.164},{"s":"802.11","t":3.31,"d":0.150},{"s":"802.11","t":3.33,"d":0.146},{"s":"802.11","t":3.36,"d":0.156},{"s":"802.11","t":3.39,"d":0.150},{"s":"802.11","t":3.42,"d":0.159},{"s":"802.11","t":3.45,"d":0.152},{"s":"802.11","t":3.48,"d":0.160},{"s":"802.11","t":3.51,"d":0.154},{"s":"802.11","t":3.54,"d":0.162},{"s":"802.11","t":3.57,"d":0.156},{"s":"802.11","t":3.60,"d":0.160},{"s":"802.11","t":3.63,"d":0.152},{"s":"802.11","t":3.66,"d":0.149},{"s":"802.11","t":3.69,"d":0.158},{"s":"802.11","t":3.72,"d":0.155},{"s":"802.11","t":3.75,"d":0.166},{"s":"802.11","t":3.78,"d":0.162},{"s":"802.11","t":3.81,"d":0.170},{"s":"802.11","t":3.84,"d":0.166},{"s":"802.11","t":3.87,"d":0.177},{"s":"802.11","t":3.90,"d":0.168},{"s":"802.11","t":3.93,"d":0.172},{"s":"802.11","t":3.96,"d":0.162},{"s":"802.11","t":3.99,"d":0.166},{"s":"802.11","t":4.02,"d":0.158},{"s":"802.11","t":4.05,"d":0.162},{"s":"802.11","t":4.08,"d":0.153},{"s":"802.11","t":4.11,"d":0.160},{"s":"802.11","t":4.14,"d":0.158},{"s":"802.11","t":4.17,"d":0.166},{"s":"802.11","t":4.20,"d":0.162},{"s":"802.11","t":4.23,"d":0.174},{"s":"802.11","t":4.26,"d":0.168},{"s":"802.11","t":4.29,"d":0.172},{"s":"802.11","t":4.32,"d":0.160},{"s":"802.11","t":4.35,"d":0.152},{"s":"802.11","t":4.38,"d":0.148},{"s":"802.11","t":4.41,"d":0.143},{"s":"802.11","t":4.44,"d":0.152},{"s":"802.11","t":4.47,"d":0.146},{"s":"802.11","t":4.50,"d":0.155},{"s":"802.11","t":4.53,"d":0.148},{"s":"802.11","t":4.56,"d":0.156},{"s":"802.11","t":4.59,"d":0.150},{"s":"802.11","t":4.62,"d":0.158},{"s":"802.11","t":4.65,"d":0.152},{"s":"802.11","t":4.68,"d":0.160},{"s":"802.11","t":4.71,"d":0.155},{"s":"802.11","t":4.74,"d":0.160},{"s":"802.11","t":4.77,"d":0.152},{"s":"802.11","t":4.80,"d":0.158},{"s":"802.11","t":4.83,"d":0.154},{"s":"802.11","t":4.86,"d":0.160},{"s":"802.11","t":4.89,"d":0.156},{"s":"802.11","t":4.92,"d":0.164},{"s":"802.11","t":4.95,"d":0.158},{"s":"802.11","t":4.98,"d":0.165},{"s":"802.11","t":5.01,"d":0.156},{"s":"802.11","t":5.04,"d":0.162},{"s":"802.11","t":5.07,"d":0.155},{"s":"802.11","t":5.10,"d":0.162},{"s":"802.11","t":5.13,"d":0.158},{"s":"802.11","t":5.16,"d":0.164},{"s":"802.11","t":5.19,"d":0.160},{"s":"802.11","t":5.22,"d":0.166},{"s":"802.11","t":5.25,"d":0.161},{"s":"802.11","t":5.28,"d":0.168},{"s":"802.11","t":5.31,"d":0.164},{"s":"802.11","t":5.34,"d":0.170},{"s":"802.11","t":5.37,"d":0.166},{"s":"802.11","t":5.40,"d":0.175},{"s":"802.11","t":5.43,"d":0.168},{"s":"802.11","t":5.46,"d":0.172},{"s":"802.11","t":5.49,"d":0.162},{"s":"802.11","t":5.52,"d":0.166},{"s":"802.11","t":5.55,"d":0.150},{"s":"802.11","t":5.58,"d":0.145},{"s":"802.11","t":5.61,"d":0.152},{"s":"802.11","t":5.64,"d":0.146},{"s":"802.11","t":5.67,"d":0.152},{"s":"802.11","t":5.70,"d":0.147},{"s":"802.11","t":5.73,"d":0.155},{"s":"802.11","t":5.76,"d":0.150},{"s":"802.11","t":5.79,"d":0.157},{"s":"802.11","t":5.82,"d":0.153},{"s":"802.11","t":5.85,"d":0.158},{"s":"802.11","t":5.88,"d":0.155},{"s":"802.11","t":5.91,"d":0.160},{"s":"802.11","t":5.94,"d":0.156},{"s":"802.11","t":5.97,"d":0.163},{"s":"802.11","t":6.00,"d":0.158},{"s":"802.11","t":6.03,"d":0.156},{"s":"802.11","t":6.06,"d":0.150},{"s":"802.11","t":6.09,"d":0.155},{"s":"802.11","t":6.12,"d":0.148},{"s":"802.11","t":6.15,"d":0.155},{"s":"802.11","t":6.18,"d":0.150},{"s":"802.11","t":6.21,"d":0.156},{"s":"802.11","t":6.24,"d":0.148},{"s":"802.11","t":6.27,"d":0.155},{"s":"802.11","t":6.30,"d":0.152},{"s":"802.11","t":6.33,"d":0.158},{"s":"802.11","t":6.36,"d":0.154},{"s":"802.11","t":6.39,"d":0.160},{"s":"802.11","t":6.42,"d":0.152},{"s":"802.11","t":6.45,"d":0.157},{"s":"802.11","t":6.48,"d":0.151},{"s":"802.11","t":6.51,"d":0.156},{"s":"802.11","t":6.54,"d":0.152},{"s":"802.11","t":6.57,"d":0.158},{"s":"802.11","t":6.60,"d":0.154},{"s":"802.11","t":6.63,"d":0.162},{"s":"802.11","t":6.66,"d":0.156},{"s":"802.11","t":6.69,"d":0.164},{"s":"802.11","t":6.72,"d":0.158},{"s":"802.11","t":6.75,"d":0.165},{"s":"802.11","t":6.78,"d":0.158},{"s":"802.11","t":6.81,"d":0.154},{"s":"802.11","t":6.84,"d":0.150},{"s":"802.11","t":6.87,"d":0.156},{"s":"802.11","t":6.90,"d":0.148},{"s":"802.11","t":6.93,"d":0.152},{"s":"802.11","t":6.96,"d":0.146},{"s":"802.11","t":6.99,"d":0.150},{"s":"802.11","t":7.02,"d":0.145},{"s":"802.11","t":7.05,"d":0.153},{"s":"802.11","t":7.08,"d":0.149},{"s":"802.11","t":7.11,"d":0.156},{"s":"802.11","t":7.14,"d":0.152},{"s":"802.11","t":7.17,"d":0.158},{"s":"802.11","t":7.20,"d":0.153},{"s":"802.11","t":7.23,"d":0.158},{"s":"802.11","t":7.26,"d":0.152},{"s":"802.11","t":7.29,"d":0.157},{"s":"802.11","t":7.32,"d":0.154},{"s":"802.11","t":7.35,"d":0.160},{"s":"802.11","t":7.38,"d":0.158},{"s":"802.11","t":7.41,"d":0.167},{"s":"802.11","t":7.44,"d":0.160},{"s":"802.11","t":7.47,"d":0.165},{"s":"802.11","t":7.50,"d":0.158},{"s":"802.11","t":7.53,"d":0.160},{"s":"802.11","t":7.56,"d":0.152},{"s":"802.11","t":7.59,"d":0.158},{"s":"802.11","t":7.62,"d":0.162},{"s":"802.11","t":7.65,"d":0.156},{"s":"802.11","t":7.68,"d":0.163},{"s":"802.11","t":7.71,"d":0.155},{"s":"802.11","t":7.74,"d":0.160},{"s":"802.11","t":7.77,"d":0.153},{"s":"802.11","t":7.80,"d":0.156},{"s":"802.11","t":7.83,"d":0.150},{"s":"802.11","t":7.86,"d":0.155},{"s":"802.11","t":7.89,"d":0.148},{"s":"802.11","t":7.92,"d":0.152},{"s":"802.11","t":7.95,"d":0.145},{"s":"802.11","t":7.98,"d":0.152},{"s":"802.11","t":8.01,"d":0.150},{"s":"802.11","t":8.04,"d":0.156},{"s":"802.11","t":8.07,"d":0.152},{"s":"802.11","t":8.10,"d":0.158},{"s":"802.11","t":8.13,"d":0.154},{"s":"802.11","t":8.16,"d":0.160},{"s":"802.11","t":8.19,"d":0.155},{"s":"802.11","t":8.22,"d":0.160},{"s":"802.11","t":8.25,"d":0.153},{"s":"802.11","t":8.28,"d":0.158},{"s":"802.11","t":8.31,"d":0.152},{"s":"802.11","t":8.34,"d":0.156},{"s":"802.11","t":8.37,"d":0.151},{"s":"802.11","t":8.40,"d":0.156},{"s":"802.11","t":8.43,"d":0.152},{"s":"802.11","t":8.46,"d":0.158},{"s":"802.11","t":8.49,"d":0.153},{"s":"802.11","t":8.52,"d":0.157},{"s":"802.11","t":8.55,"d":0.152},{"s":"802.11","t":8.58,"d":0.158},{"s":"802.11","t":8.61,"d":0.153},{"s":"802.11","t":8.64,"d":0.157},{"s":"802.11","t":8.67,"d":0.151},{"s":"802.11","t":8.70,"d":0.155},{"s":"802.11","t":8.73,"d":0.150},{"s":"802.11","t":8.76,"d":0.156},{"s":"802.11","t":8.79,"d":0.152},{"s":"802.11","t":8.82,"d":0.158},{"s":"802.11","t":8.85,"d":0.154},{"s":"802.11","t":8.88,"d":0.160},{"s":"802.11","t":8.91,"d":0.154},{"s":"802.11","t":8.94,"d":0.157},{"s":"802.11","t":8.97,"d":0.151},{"s":"802.11","t":9.00,"d":0.154},{"s":"802.11","t":9.03,"d":0.149},{"s":"802.11","t":9.06,"d":0.153},{"s":"802.11","t":9.09,"d":0.148},{"s":"802.11","t":9.12,"d":0.152},{"s":"802.11","t":9.15,"d":0.147},{"s":"802.11","t":9.18,"d":0.151},{"s":"802.11","t":9.21,"d":0.148},{"s":"802.11","t":9.24,"d":0.153},{"s":"802.11","t":9.27,"d":0.150},{"s":"802.11","t":9.30,"d":0.156},{"s":"802.11","t":9.33,"d":0.152},{"s":"802.11","t":9.36,"d":0.157},{"s":"802.11","t":9.39,"d":0.154},{"s":"802.11","t":9.42,"d":0.159},{"s":"802.11","t":9.45,"d":0.155},{"s":"802.11","t":9.48,"d":0.160},{"s":"802.11","t":9.50,"d":0.152},{"s":"802.11","t":9.52,"d":0.132},{"s":"802.11","t":9.54,"d":0.125},{"s":"802.11","t":9.56,"d":0.112},{"s":"802.11","t":9.58,"d":0.118},{"s":"802.11","t":9.60,"d":0.108}
]},
"mark": {"type": "line", "strokeWidth": 1.5, "clip": true},
"encoding": {
  "x": {"field": "t", "type": "quantitative", "scale": {"domain": [1.5, 9.6], "nice": false, "zero": false},
    "axis": {"title": "Packet receive time (s)", "values": [1.5, 2.5, 3.5, 4.5, 5.5, 6.5, 7.5, 8.5, 9.5], "labelExpr": "replace(format(datum.value, '.1f'), '.', ',')", "labelPadding": 21, "titleY": 42}},
  "y": {"field": "d", "type": "quantitative", "scale": {"domain": [0, 0.2], "nice": false},
    "axis": {"title": "Delay (s)", "values": [0, 0.02, 0.04, 0.06, 0.08, 0.1, 0.12, 0.14, 0.16, 0.18, 0.2], "labelExpr": "replace(format(datum.value, '.2~f'), '.', ',')", "labelPadding": 18, "titleX": -51}},
  "color": {"field": "s", "type": "nominal",
    "scale": {"domain": ["802.11e with CFB", "802.11e without CFB", "802.11"], "range": ["#0000ff", "#ff00ff", "#00ffff"]},
    "legend": {"title": null, "orient": "none", "legendX": 293, "legendY": 6, "symbolType": "M-2,0L2,0", "symbolSize": 256, "symbolStrokeWidth": 1.5, "symbolFillColor": "transparent", "labelFontSize": 17.5, "labelFont": "Liberation Sans", "labelColor": "#000", "labelLimit": 300, "rowPadding": 0, "strokeColor": "#000", "fillColor": "#fff", "padding": 3, "labelOffset": 13, "symbolOffset": 11}},
  "order": {"field": "t", "type": "quantitative"}
}
}
